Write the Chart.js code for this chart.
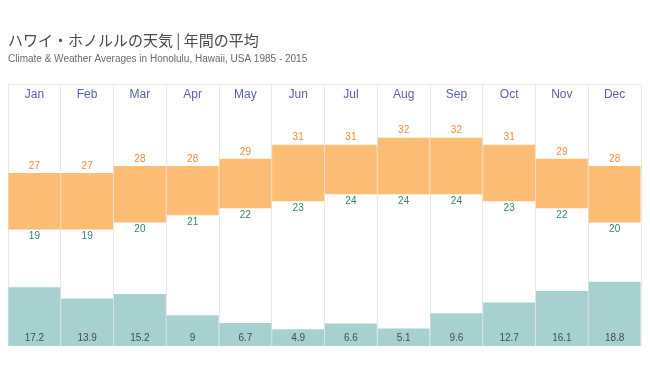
<!DOCTYPE html>
<html lang="ja">
	<head>
		<meta charset="UTF-8" />
		<title>ハワイ・ホノルルの天気</title>
		<style>
			html, body { margin: 0; padding: 0; background: #fff; }
			#chartContainer { width: 650px; height: 366px; }
		</style>
	</head>
	<body>
		<div id="chartContainer">
			<canvas id="myChart"></canvas>
		</div>
	</body>
	<script src="https://cdn.jsdelivr.net/npm/chart.js"></script>
	<script>
		// data
		const months = ['Jan', 'Feb', 'Mar', 'Apr', 'May', 'Jun', 'Jul', 'Aug', 'Sep', 'Oct', 'Nov', 'Dec'];
		const highTemp = [27, 27, 28, 28, 29, 31, 31, 32, 32, 31, 29, 28];
		const lowTemp = [19, 19, 20, 21, 22, 23, 24, 24, 24, 23, 22, 20];
		const rainfall = [17.2, 13.9, 15.2, 9, 6.7, 4.9, 6.6, 5.1, 9.6, 12.7, 16.1, 18.8];

		const labelFont = '10px "Liberation Sans", Arial, sans-serif';

		// draws the month names and the value labels
		const labelPlugin = {
			id: 'labels',
			afterDatasetsDraw(chart) {
				const ctx = chart.ctx;
				const xs = chart.scales.x;
				ctx.save();
				ctx.textAlign = 'center';
				ctx.textBaseline = 'middle';

				ctx.font = '12px "Liberation Sans", Arial, sans-serif';
				ctx.fillStyle = '#5b62a6';
				months.forEach((m, i) => {
					ctx.fillText(m, xs.getPixelForValue(i), chart.chartArea.top + 11);
				});

				ctx.font = labelFont;
				const temp = chart.getDatasetMeta(0);
				temp.data.forEach((bar, i) => {
					const top = Math.min(bar.y, bar.base);
					const bottom = Math.max(bar.y, bar.base);
					ctx.fillStyle = '#ef8a3e';
					ctx.fillText(highTemp[i], bar.x, top - 7);
					ctx.fillStyle = '#2f8479';
					ctx.fillText(lowTemp[i], bar.x, bottom + 7);
				});

				const rain = chart.getDatasetMeta(1);
				rain.data.forEach((bar, i) => {
					ctx.fillStyle = '#4a4a4a';
					ctx.fillText(rainfall[i], bar.x, bar.base - 8);
				});
				ctx.restore();
			},
		};

		const data = {
			labels: months,
			datasets: [
				{
					label: '気温',
					data: months.map((m, i) => [lowTemp[i], highTemp[i]]),
					backgroundColor: '#fdbd74',
					yAxisID: 'yT',
				},
				{
					label: '降水量',
					data: rainfall,
					backgroundColor: '#a7d0d0',
					yAxisID: 'yR',
				},
			],
		};

		const config = {
			type: 'bar',
			data,
			plugins: [labelPlugin],
			options: {
				responsive: true,
				maintainAspectRatio: false,
				animation: false,
				grouped: false,
				barPercentage: 0.985,
				categoryPercentage: 1,
				layout: { padding: { left: 8, right: 9, bottom: 20, top: 0 } },
				plugins: {
					legend: { display: false },
					tooltip: { enabled: false },
					title: {
						display: true,
						text: 'ハワイ・ホノルルの天気 | 年間の平均',
						align: 'start',
						color: '#4a4a4a',
						font: { family: '"Noto Sans CJK JP", sans-serif', size: 15, weight: 'normal', lineHeight: 1.2 },
						padding: { top: 31, bottom: 4 },
					},
					subtitle: {
						display: true,
						text: 'Climate & Weather Averages in Honolulu, Hawaii, USA 1985 - 2015',
						align: 'start',
						color: '#6a6a6a',
						font: { family: '"Liberation Sans", Arial, sans-serif', size: 10, lineHeight: 1.2 },
						padding: { top: 0, bottom: 19 },
					},
				},
				scales: {
					x: {
						position: 'top',
						ticks: { display: false },
						grid: { color: '#e8e8e8', drawTicks: false, offset: true },
						border: { color: '#e8e8e8' },
					},
					yT: {
						display: false,
						min: 2.5,
						max: 39.6,
					},
					yR: {
						display: false,
						min: 0,
						max: 76.6,
					},
				},
			},
		};

		new Chart(document.getElementById('myChart'), config);
	</script>
</html>
